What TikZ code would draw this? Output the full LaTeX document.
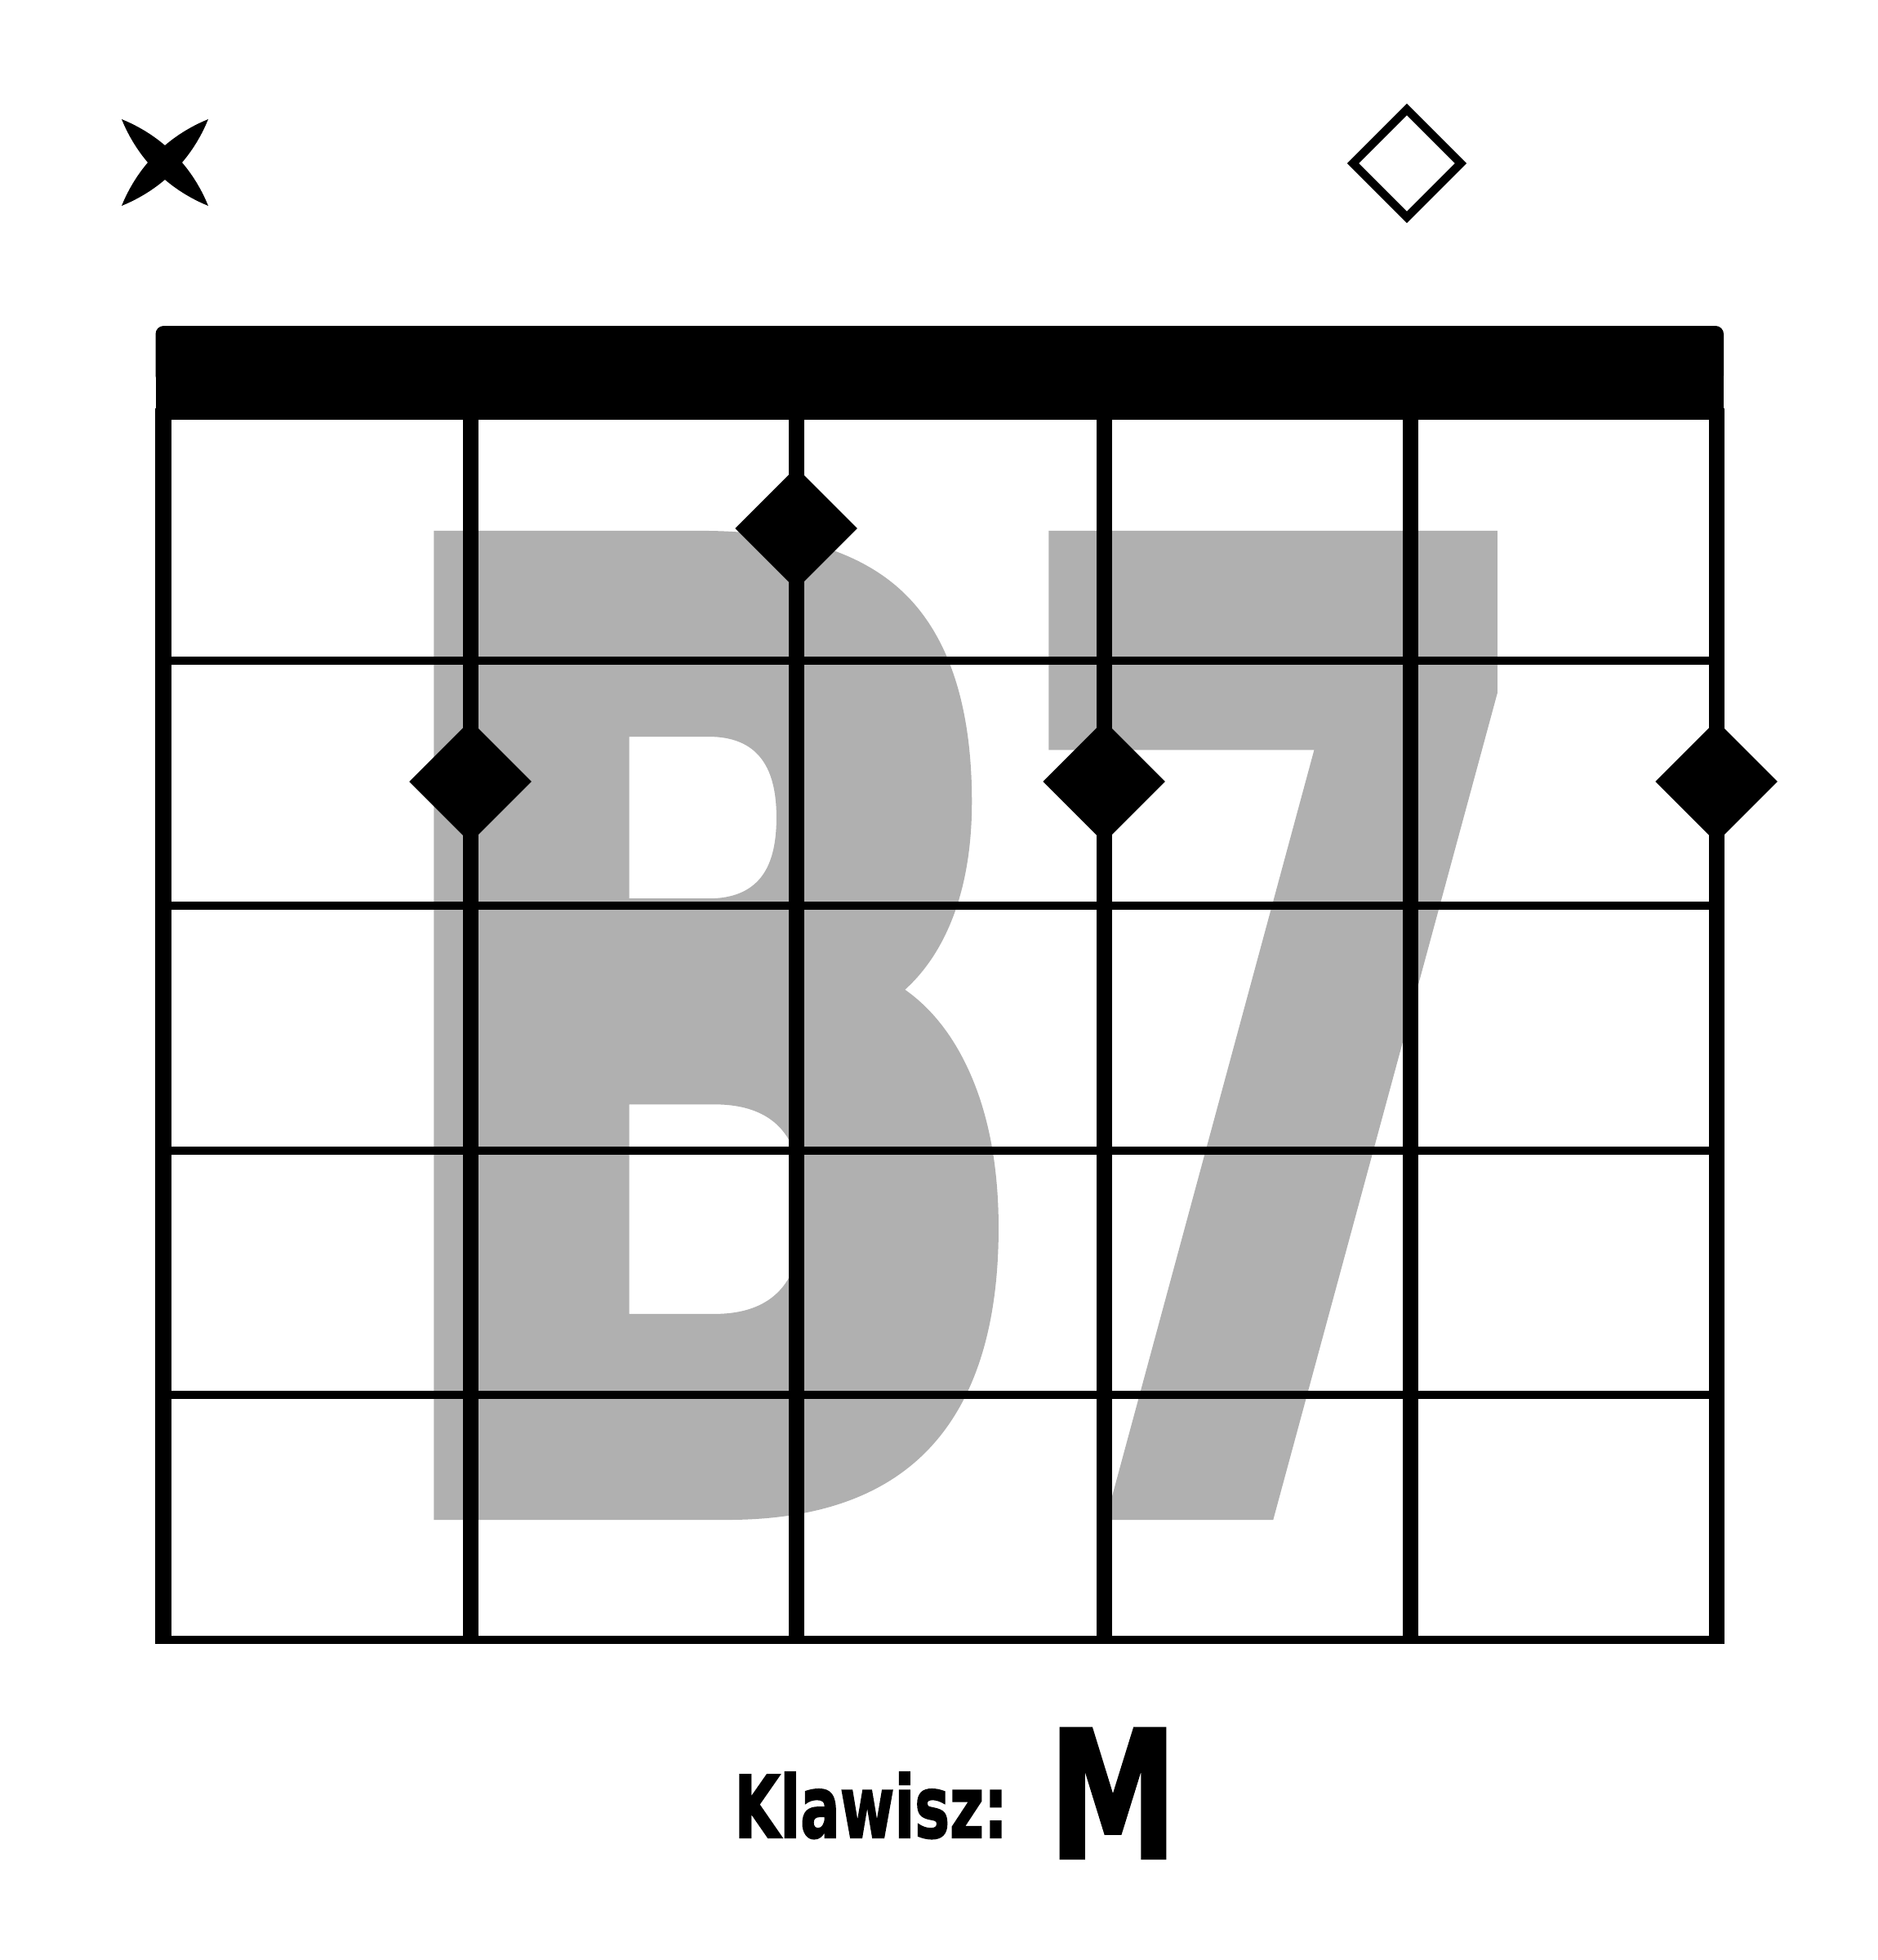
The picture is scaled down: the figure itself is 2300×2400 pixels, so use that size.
\documentclass[tikz,border=0pt]{standalone}
\usepackage{graphicx}
\usepackage{fontspec}
\usetikzlibrary{shapes.geometric}
\newfontfamily\heavyfont{DejaVu Sans Bold}[FakeBold=3]
\newfontfamily\labelfont{DejaVu Sans Bold}[FakeBold=2]
\definecolor{chordgray}{RGB}{176,176,176}
\begin{document}
\begin{tikzpicture}[x=0.01cm,y=-0.01cm]
\tikzset{
  stringline/.style={line width=0.19cm},
  fretline/.style={line width=0.095cm},
  fingerdot/.style={diamond, aspect=1, fill=black, inner sep=0pt, minimum size=1.5cm},
  opendot/.style={diamond, aspect=1, draw=black, line width=0.1cm, fill=white, inner sep=0pt, minimum size=1.36cm},
  bgletter/.style={inner sep=0pt, outer sep=0pt, text=chordgray, anchor=base west},
  keytext/.style={inner sep=0pt, outer sep=0pt, text=black, anchor=base west},
}
\fill[white] (0,0) rectangle (2300,2400);
\useasboundingbox (0,0) rectangle (2300,2400);

% background chord name
\node[bgletter] (letterB) at (546,1837) {\resizebox{6.70cm}{11.61cm}{\heavyfont\kern-0.09em B\kern-0.06em}};
\node[bgletter] (letterSeven) at (1311,1837) {\resizebox{5.17cm}{11.61cm}{\heavyfont\kern-0.08em 7\kern-0.07em}};

% frets
\foreach \y in {809,1109,1409,1708,2008} {
  \draw[fretline] (190.5,\y) -- (2111,\y);
}
% strings
\foreach \x in {200,576,975,1352,1727,2102} {
  \draw[stringline] (\x,500) -- (\x,2013);
}
% nut
\fill[rounded corners=0.1cm] (190.5,470) rectangle (2111,399);
\fill (190.5,460) rectangle (2111,514);

% fingered notes
\node[fingerdot] (noteA) at (576,957) {};
\node[fingerdot] (noteB) at (975,647) {};
\node[fingerdot] (noteC) at (1352,957) {};
\node[fingerdot] (noteD) at (2102,957) {};

% open string
\node[opendot] (openE) at (1723,200) {};

% muted string
\begin{scope}[shift={(202,199)}]
\fill (-53,-53) .. controls (-33.6,-45.1) and (-16,-34.5) .. (0,-21)
  .. controls (16,-34.5) and (33.6,-45.1) .. (53,-53)
  .. controls (45.1,-33.6) and (34.5,-16) .. (21,0)
  .. controls (34.5,16) and (45.1,33.6) .. (53,53)
  .. controls (33.6,45.1) and (16,34.5) .. (0,21)
  .. controls (-16,34.5) and (-33.6,45.1) .. (-53,53)
  .. controls (-45.1,33.6) and (-34.5,16) .. (-21,0)
  .. controls (-34.5,-16) and (-45.1,-33.6) .. cycle;
\end{scope}

% key label
\node[keytext] (keyLabel) at (906,2250) {\resizebox{3.24cm}{0.80cm}{\labelfont\kern-0.09em Klawisz:\kern-0.05em}};
\node[keytext] (keyValue) at (1299,2275) {\resizebox{1.28cm}{1.58cm}{\labelfont\kern-0.09em M\kern-0.09em}};
\end{tikzpicture}
\end{document}
